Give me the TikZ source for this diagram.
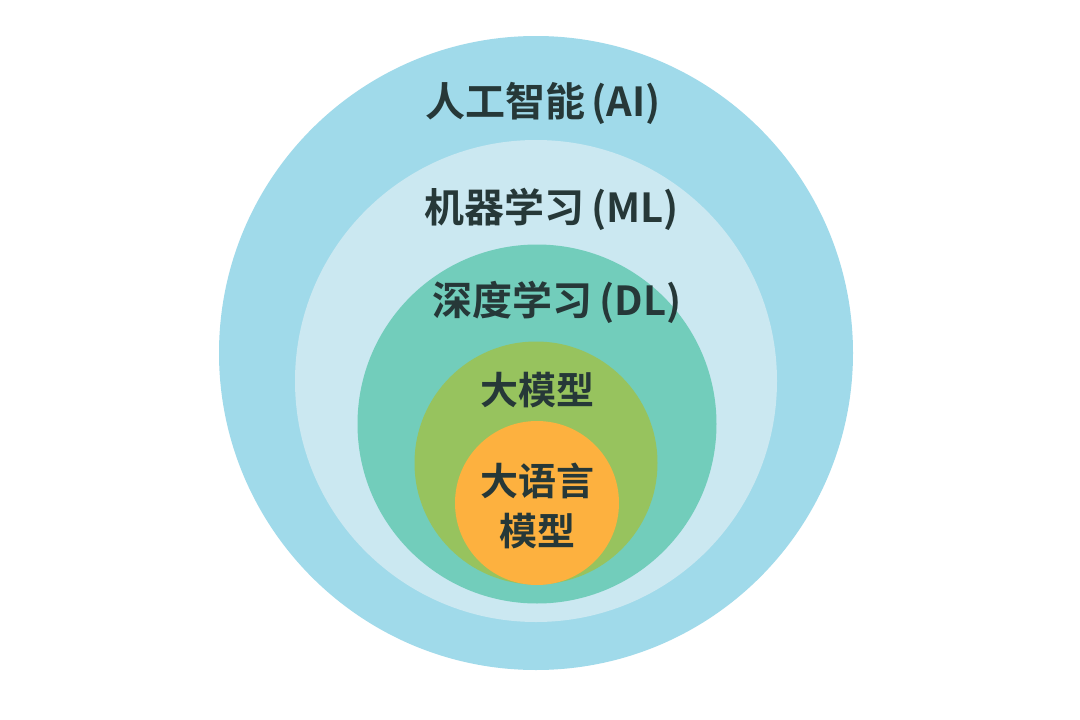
\documentclass[tikz,border=0pt]{standalone}
\usepackage{fontspec}
\newfontfamily\cjk{Noto Sans CJK SC Bold}
\definecolor{cAI}{HTML}{A0DAEA}
\definecolor{cML}{HTML}{CBE8F1}
\definecolor{cDL}{HTML}{72CDBB}
\definecolor{cBM}{HTML}{97C35E}
\definecolor{cLL}{HTML}{FDB13F}
\definecolor{ink}{HTML}{263838}
\begin{document}
\begin{tikzpicture}[x=1pt,y=-1pt,
  ring/.style={circle,draw=none,inner sep=0pt},
  lab/.style={font=\cjk\fontsize{40}{48}\selectfont,text=ink,align=center},
  labs/.style={font=\cjk\fontsize{38}{50}\selectfont,text=ink,align=center}]
\useasboundingbox (0,0) rectangle (1080,720);
\fill[white] (0,0) rectangle (1080,720);
\node[ring,fill=cAI,minimum size=634pt] (ai) at (536,353) {};
\node[ring,fill=cML,minimum size=482pt] (ml) at (536,381) {};
\node[ring,fill=cDL,minimum size=359pt] (dl) at (537,424) {};
\node[ring,fill=cBM,minimum size=243pt] (bm) at (536,463) {};
\node[ring,fill=cLL,minimum size=164pt] (ll) at (537,503) {};
\node[lab] (tai) at (543,103) {人工智能\,(AI)};
\node[lab] (tml) at (552,209) {机器学习\,(ML)};
\node[lab] (tdl) at (557,302) {深度学习\,(DL)};
\node[labs] (tbm) at (537,390) {大模型};
\node[labs] (tll) at (537,506) {大语言\\模型};
\end{tikzpicture}
\end{document}
